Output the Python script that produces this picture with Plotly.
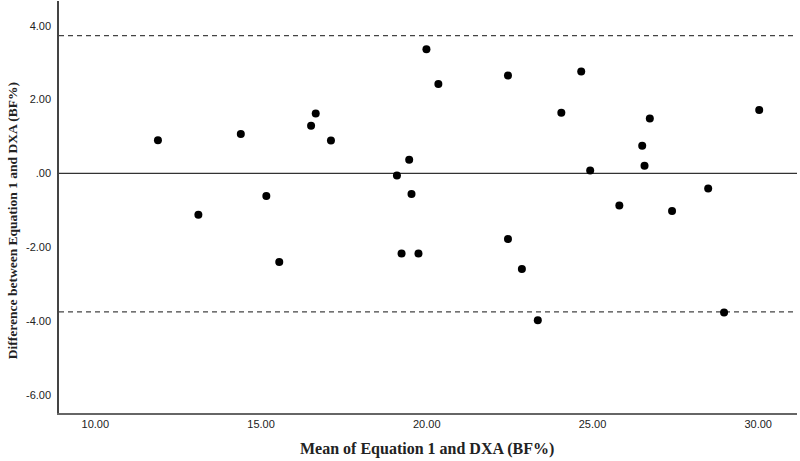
import plotly.graph_objects as go

# Bland-Altman data
mean_vals = [11.89, 13.11, 14.39, 15.16, 15.55, 16.51, 16.65, 17.11, 19.10, 19.24,
             19.47, 19.54, 19.75, 19.99, 20.35, 22.45, 22.45, 22.87, 23.35, 24.06,
             24.66, 24.93, 25.81, 26.50, 26.57, 26.73, 27.40, 28.49, 28.97, 30.03]
diff_vals = [0.90, -1.12, 1.07, -0.61, -2.40, 1.29, 1.62, 0.89, -0.06, -2.17,
             0.37, -0.56, -2.17, 3.36, 2.42, 2.65, -1.78, -2.59, -3.98, 1.64,
             2.76, 0.08, -0.87, 0.75, 0.21, 1.49, -1.02, -0.41, -3.77, 1.72]

mean_line = 0.0
upper_loa = 3.73
lower_loa = -3.75

x_tickvals = [10, 15, 20, 25, 30]
x_ticktext = ["10.00", "15.00", "20.00", "25.00", "30.00"]
y_tickvals = [4, 2, 0, -2, -4, -6]
y_ticktext = ["4.00", "2.00", ".00", "-2.00", "-4.00", "-6.00"]

x_title = "Mean of Equation 1 and DXA (BF%)"
y_title = "Difference between Equation 1 and DXA (BF%)"

fig = go.Figure()

fig.add_trace(go.Scatter(
    x=mean_vals, y=diff_vals, mode="markers",
    marker=dict(color="black", size=8, line=dict(width=0)),
    showlegend=False, hoverinfo="x+y",
))

for val, dash in [(upper_loa, "5px,4px"), (lower_loa, "5px,4px"), (mean_line, "solid")]:
    fig.add_shape(type="line", xref="paper", yref="y", x0=0, x1=1, y0=val, y1=val,
                  line=dict(color="#333333" if dash == "solid" else "#444444",
                            width=1.3, dash=dash), layer="below")

fig.add_annotation(text="<b>" + x_title + "</b>", xref="paper", yref="paper",
                   x=0.4986, y=-0.087, xanchor="center", yanchor="middle", showarrow=False,
                   font=dict(family="Liberation Serif", size=16, color="#222222"))
fig.add_annotation(text="<b>" + y_title + "</b>", xref="paper", yref="paper",
                   x=-0.0637, y=0.468, xanchor="center", yanchor="middle", showarrow=False,
                   textangle=-90,
                   font=dict(family="Liberation Serif", size=13.5, color="#222222"))

fig.update_layout(
    width=800, height=461,
    margin=dict(l=59, r=3, t=1, b=48),
    paper_bgcolor="white", plot_bgcolor="white",
    font=dict(family="Liberation Sans", size=11, color="#222222"),
    xaxis=dict(
        range=[8.905, 31.17], tickvals=x_tickvals, ticktext=x_ticktext,
        showgrid=False, zeroline=False, showline=True, linecolor="#666666", linewidth=2,
        ticks="", tickfont=dict(family="Liberation Sans Narrow, Liberation Sans", size=11, color="#222222"),
    ),
    yaxis=dict(
        range=[-6.49, 4.67], tickvals=y_tickvals, ticktext=y_ticktext,
        showgrid=False, zeroline=False, showline=True, linecolor="#444444", linewidth=1.5,
        ticks="", ticklabelstandoff=4,
        tickfont=dict(family="Liberation Sans Narrow, Liberation Sans", size=11, color="#222222"),
    ),
)

fig.write_html("out.html")
